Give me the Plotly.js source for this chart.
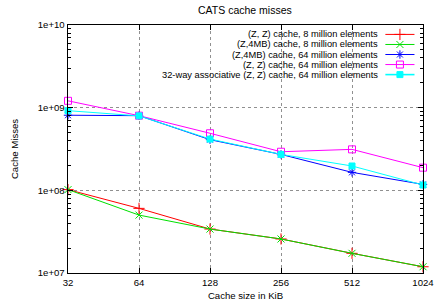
<!DOCTYPE html>
<html><head><meta charset="utf-8">
<script src="https://cdn.plot.ly/plotly-3.0.1.min.js"></script>
<style>html,body{margin:0;padding:0;background:#fff}#c{width:435px;height:308px}</style>
</head><body><div id="c"></div>
<script>
const cacheSizes = [32, 64, 128, 256, 512, 1024];
const xTickLabels = ['32', '64', '128', '256', '512', '1024'];
const yTickVals = [1e7, 1e8, 1e9, 1e10];
const yTickLabels = ['1e+07', '1e+08', '1e+09', '1e+10'];

const seriesNames = [
  '(Z, Z) cache, 8 million elements',
  '(Z,4MB) cache, 8 million elements',
  '(Z,4MB) cache, 64 million elements',
  '(Z, Z) cache, 64 million elements',
  '32-way associative (Z, Z) cache, 64 million elements'
];
const zz8 = [1.02e8, 6.05e7, 3.4e7, 2.58e7, 1.73e7, 1.19e7];
const z4mb8 = [1.02e8, 5.02e7, 3.4e7, 2.58e7, 1.73e7, 1.19e7];
const z4mb64 = [8.1e8, 8.0e8, 4.1e8, 2.72e8, 1.65e8, 1.18e8];
const zz64 = [1.21e9, 8.0e8, 4.9e8, 2.93e8, 3.13e8, 1.88e8];
const assoc64 = [9.2e8, 7.95e8, 4.17e8, 2.72e8, 1.97e8, 1.16e8];

const seriesData = [zz8, z4mb8, z4mb64, zz64, assoc64];
const colors = ['#ff0000', '#00e000', '#0000ff', '#ff00ff', '#00ffff'];
const symbols = ['cross-thin-open', 'x-thin-open', 'asterisk-open', 'square-open', 'square'];
const msizes = [8, 7, 7, 7, 6];

const font = 'Liberation Sans, Arial, sans-serif';
const fs = 9.6;
const keyFs = 9.3;
const traces = [];
seriesData.forEach((ys, i) => {
  traces.push({
    x: cacheSizes, y: ys, type: 'scatter', mode: 'lines+markers', name: seriesNames[i],
    line: {color: colors[i], width: 1},
    marker: {symbol: symbols[i], size: msizes[i], color: colors[i], line: {color: colors[i], width: 1}},
    showlegend: false, cliponaxis: false
  });
});
// custom gnuplot-style key: sample on the right of the text
const keyRows = seriesNames.map((_, i) => 0.962 - i * 0.0405);
seriesNames.forEach((n, i) => {
  traces.push({
    x: [0.894, 0.976], y: [keyRows[i], keyRows[i]], xaxis: 'x2', yaxis: 'y2',
    type: 'scatter', mode: 'lines', line: {color: colors[i], width: i === 4 ? 1.6 : 1},
    showlegend: false, hoverinfo: 'skip'
  });
  traces.push({
    x: [0.935], y: [keyRows[i]], xaxis: 'x2', yaxis: 'y2',
    type: 'scatter', mode: 'markers',
    marker: {symbol: symbols[i], size: msizes[i], color: colors[i], line: {color: colors[i], width: 1}},
    showlegend: false, hoverinfo: 'skip'
  });
});
const annotations = seriesNames.map((n, i) => ({
  text: n, xref: 'x2', yref: 'y2', x: 0.875, y: keyRows[i], xanchor: 'right', yanchor: 'middle',
  showarrow: false, borderpad: 0, font: {family: font, size: keyFs, color: '#000'}
}));

const eps = 1e-6;
const layout = {
  width: 435, height: 308,
  margin: {l: 68, r: 12, t: 25, b: 35},
  paper_bgcolor: '#fff', plot_bgcolor: '#fff',
  showlegend: false,
  font: {family: font, size: fs, color: '#000'},
  title: {text: 'CATS cache misses', font: {family: font, size: 10.5, color: '#000'}, x: 0.563, xanchor: 'center', y: 0.965, yanchor: 'middle'},
  xaxis: {
    type: 'log', range: [Math.log10(32) - eps, Math.log10(1024) + eps],
    tickvals: cacheSizes, ticktext: xTickLabels,
    ticks: 'inside', ticklen: 5, tickcolor: '#000', mirror: 'allticks',
    showline: true, linecolor: '#000', linewidth: 1.4,
    showgrid: true, gridcolor: '#909090', griddash: 'dot', gridwidth: 1,
    zeroline: false, tickfont: {family: font, size: fs},
    title: {text: 'Cache size in KiB', font: {family: font, size: fs}, standoff: 5}
  },
  yaxis: {
    type: 'log', range: [7 - eps, 10 + eps],
    tickvals: yTickVals, ticktext: yTickLabels,
    ticks: 'inside', ticklen: 5, tickcolor: '#000', mirror: 'allticks',
    showline: true, linecolor: '#000', linewidth: 1.4,
    showgrid: true, gridcolor: '#909090', griddash: 'dot', gridwidth: 1,
    zeroline: false, tickfont: {family: font, size: fs},
    minor: {ticks: 'inside', ticklen: 3, tickcolor: '#000', showgrid: false, dtick: 'D1'},
    title: {text: 'Cache Misses', font: {family: font, size: fs}, standoff: 17}
  },
  xaxis2: {overlaying: 'x', range: [0, 1], visible: false, fixedrange: true},
  yaxis2: {overlaying: 'y', range: [0, 1], visible: false, fixedrange: true},
  annotations: annotations
};
Plotly.newPlot('c', traces, layout, {staticPlot: true, displayModeBar: false});
</script></body></html>
